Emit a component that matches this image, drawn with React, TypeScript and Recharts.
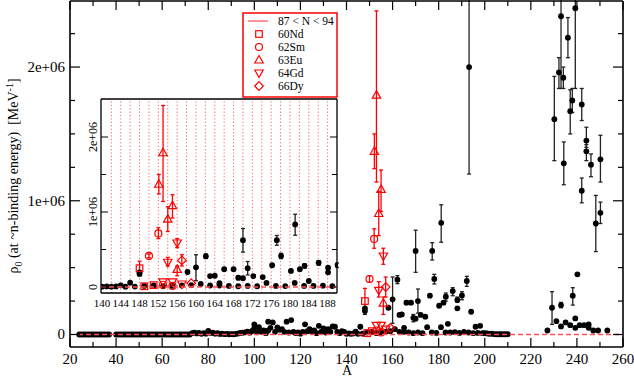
import React from "react";
import { ComposedChart, Scatter, XAxis, YAxis, ErrorBar, ReferenceLine } from "recharts";

const RED = "#ff0000";
const FONT = "Liberation Serif, Times New Roman, serif";

// [A, rho0]
type Pt = [number, number];
// [A, rho0, lower bound, upper bound]
type ErrPt = [number, number, number, number];

// black points lying close to zero
const blackNearZero: Pt[] = [
  [24, 0], [25, 0], [26, 0], [27, 0], [28, 0], [29, 0], [30, 0], [31, 0], [32, 0], [33, 0], [34, 0], [35, 0], [36, 0], [37, 0],
  [40, 0], [41, 0], [42, 0], [43, 0], [44, 0], [45, 0], [46, 0], [47, 0], [48, 0], [49, 0], [50, 0], [51, 0], [52, 0],
  [53, 0], [54, 0], [55, 0], [56, 0], [57, 0], [58, 0], [59, 0], [60, 0], [61, 0], [62, 0], [63, 0], [64, 0], [65, 0],
  [66, 0], [67, 0], [68, 0], [69, 0], [70, 0], [71, 0], [72, 0],
  [73, 10e3], [74, 14e3], [75, 8e3], [76, 12e3], [77, 5e3], [78, 10e3], [79, 6e3], [80, 26e3], [81, 12e3], [82, 14e3],
  [83, 6e3], [84, 10e3], [85, 4e3], [86, 6e3], [87, 3e3], [88, 4e3], [89, 2e3], [90, 3e3], [91, 2e3], [92, 4e3],
  [93, 8e3], [94, 12e3], [95, 14e3], [96, 16e3], [97, 22e3], [98, 14e3], [99, 26e3],
  [100, 76e3], [100, 50e3], [101, 16e3], [102, 55e3], [103, 20e3], [104, 30e3], [105, 10e3], [106, 96e3], [106, 30e3],
  [107, 50e3], [108, 90e3], [109, 20e3], [110, 54e3], [111, 35e3], [112, 40e3], [113, 20e3], [114, 96e3], [115, 15e3],
  [116, 108e3], [117, 20e3], [118, 10e3], [119, 15e3], [120, 6e3], [121, 20e3], [122, 76e3], [123, 25e3], [124, 40e3],
  [125, 20e3], [126, 30e3], [127, 10e3], [128, 65e3], [129, 20e3], [130, 45e3], [131, 15e3], [132, 40e3], [133, 20e3],
  [134, 60e3], [135, 58e3], [136, 20e3], [137, 10e3], [138, 25e3], [139, 20e3],
  [140, 5e3], [141, 8e3], [142, 5e3], [143, 8e3], [144, 22e3], [145, 5e3], [146, 58e3], [147, 6e3],
  [149, 15e3], [151, 20e3], [153, 10e3], [155, 15e3], [157, 20e3], [159, 25e3], [161, 40e3], [163, 20e3],
  [165, 50e3], [165, 20e3], [167, 15e3], [169, 10e3], [171, 15e3], [173, 10e3], [175, 55e3], [177, 15e3],
  [179, 12e3], [181, 55e3], [183, 15e3], [184, 80e3], [185, 15e3], [187, 18e3], [189, 12e3], [191, 20e3],
  [193, 15e3], [195, 10e3], [196, 58e3], [197, 12e3], [198, 65e3], [199, 10e3],
  [200, 10e3], [201, 8e3], [202, 5e3], [203, 6e3], [204, 3e3], [205, 2e3], [206, 2e3], [207, 2e3], [208, 2e3],
  [209, 2e3], [210, 2e3],
];

// rare earth region, no error bar
const blackMid: Pt[] = [
  [148, 195e3], [158.2, 200e3], [163, 146e3], [164, 150e3], [168, 238e3], [170, 118e3], [172.2, 146e3],
  [174.2, 133e3], [176.2, 290e3], [180.2, 215e3], [182.1, 238e3], [188.1, 196e3], [194.1, 170e3],
];

const blackMidErr: ErrPt[] = [
  [148, 175e3, 150e3, 200e3],
  [160, 263e3, 84e3, 430e3],
  [162.1, 410e3, 380e3, 440e3],
  [166, 238e3, 225e3, 252e3],
  [169, 125e3, 95e3, 150e3],
  [170, 625e3, 465e3, 780e3],
  [171, 250e3, 160e3, 340e3],
  [177.2, 625e3, 557e3, 687e3],
  [178.1, 415e3, 378e3, 450e3],
  [181.1, 835e3, 690e3, 970e3],
  [183.1, 283e3, 250e3, 310e3],
  [186.1, 325e3, 290e3, 350e3],
  [188.1, 258e3, 240e3, 280e3],
  [190.1, 292e3, 260e3, 320e3],
  [192.2, 400e3, 360e3, 435e3],
  [193.2, 2.0e6, 1.2e6, 2.8e6],
];

const actinides: Pt[] = [
  [227.2, 30e3], [231.1, 100e3], [233.1, 60e3], [235.1, 90e3], [237.1, 70e3], [239.3, 50e3], [239.3, 120e3],
  [240.2, 450e3], [241.2, 70e3], [243.1, 70e3], [245.1, 75e3], [245.1, 50e3], [247.1, 30e3], [249.2, 30e3],
  [253.2, 30e3],
];

const actinidesErr: ErrPt[] = [
  [229.2, 200e3, 76e3, 320e3],
  [230.2, 1.61e6, 1.3e6, 1.93e6],
  [232.2, 1.96e6, 1.84e6, 2.07e6],
  [233.1, 2.38e6, 1.84e6, 2.8e6],
  [233.1, 220e3, 200e3, 240e3],
  [234.1, 1.92e6, 1.84e6, 2.0e6],
  [234.3, 1.28e6, 1.12e6, 1.44e6],
  [236.1, 2.22e6, 2.07e6, 2.37e6],
  [237.1, 1.67e6, 1.5e6, 1.83e6],
  [238, 1.75e6, 1.66e6, 1.84e6],
  [238.2, 290e3, 220e3, 350e3],
  [239.3, 2.44e6, 1.84e6, 2.8e6],
  [242.1, 1.72e6, 1.6e6, 1.84e6],
  [242.1, 1.075e6, 0.985e6, 1.17e6],
  [244.1, 1.45e6, 1.4e6, 1.55e6],
  [244.1, 1.37e6, 1.3e6, 1.42e6],
  [246.1, 1.27e6, 1.18e6, 1.35e6],
  [248.2, 0.83e6, 0.62e6, 1.04e6],
  [250.2, 1.31e6, 1.14e6, 1.49e6],
  [250.2, 0.91e6, 0.83e6, 0.99e6],
];

// 87 < N < 94 isotopes, by element
const ndPts: Pt[] = [[149, 10e3], [151, 25e3]];
const ndErr: ErrPt[] = [[148, 250e3, 180e3, 345e3]];
const smPts: Pt[] = [[153, 30e3], [155, 15e3]];
const smErr: ErrPt[] = [[150, 415e3, 390e3, 440e3], [152, 715e3, 645e3, 790e3]];
const euErr: ErrPt[] = [
  [152.1, 1.37e6, 1.24e6, 1.5e6],
  [153, 1.79e6, 1.14e6, 2.42e6],
  [154, 0.905e6, 0.74e6, 1.07e6],
  [155, 1.085e6, 0.92e6, 1.23e6],
  [156, 235e3, 150e3, 280e3],
];
const gdPts: Pt[] = [[153, 68e3], [155, 68e3], [157, 40e3]];
const gdErr: ErrPt[] = [[154, 330e3, 280e3, 395e3], [156, 587e3, 525e3, 645e3]];
const dyPts: Pt[] = [[159, 50e3]];
const dyErr: ErrPt[] = [[157, 355e3, 280e3, 430e3]];

const zeroLine: Pt[] = [[23.5, 0], [260, 0]];
const insetZeroLine: Pt[] = [[139.8, 0], [190, 0]];

const mainXTicks = [20, 30, 40, 50, 60, 70, 80, 90, 100, 110, 120, 130, 140, 150, 160, 170, 180, 190, 200, 210, 220, 230, 240, 250, 260];
const mainYTicks = [0, 250000, 500000, 750000, 1000000, 1250000, 1500000, 1750000, 2000000, 2250000];
const insetXTicks = [140, 144, 148, 152, 156, 160, 164, 168, 172, 176, 180, 184, 188];
const insetYTicks = [0, 500000, 1000000, 1500000, 2000000];
const insetGuides = [142, 144, 146, 148, 150, 152, 154, 156, 158, 160, 162, 164, 166, 168, 170, 172, 174, 176, 178, 180, 182, 184, 186, 188];
const legendLabels = ["87 < N < 94", "60Nd", "62Sm", "63Eu", "64Gd", "66Dy"];

const plain = (pts: Pt[]) => pts.map(([A, v]) => ({ A, v }));
const withErr = (pts: ErrPt[]) => pts.map(([A, v, lo, hi]) => ({ A, v, err: [v - lo, hi - v] }));

const yLabel = (v: number) => (v === 0 ? "0" : `${v / 1e6}e+06`);

// markers
const Dot = (p: any) => <circle cx={p.cx} cy={p.cy} r={2.9} fill="#000" />;
const Square = (p: any) => (
  <rect x={p.cx - 3.3} y={p.cy - 3.3} width={6.6} height={6.6} fill="none" stroke={RED} strokeWidth={1.2} />
);
const Circ = (p: any) => <circle cx={p.cx} cy={p.cy} r={3.5} fill="none" stroke={RED} strokeWidth={1.2} />;
const TriUp = (p: any) => (
  <path d={`M${p.cx},${p.cy - 4.5}L${p.cx + 4.2},${p.cy + 3}L${p.cx - 4.2},${p.cy + 3}Z`} fill="none" stroke={RED} strokeWidth={1.2} />
);
const TriDown = (p: any) => (
  <path d={`M${p.cx},${p.cy + 4.5}L${p.cx + 4.2},${p.cy - 3}L${p.cx - 4.2},${p.cy - 3}Z`} fill="none" stroke={RED} strokeWidth={1.2} />
);
const Diamond = (p: any) => (
  <path d={`M${p.cx},${p.cy - 4.3}L${p.cx + 4.3},${p.cy}L${p.cx},${p.cy + 4.3}L${p.cx - 4.3},${p.cy}Z`} fill="none" stroke={RED} strokeWidth={1.2} />
);
const Nothing = () => <g />;

function series(xId: string, yId: string) {
  const c = { xAxisId: xId, yAxisId: yId, isAnimationActive: false };
  const eb = (color: string) => (
    <ErrorBar dataKey="err" direction="y" width={2} stroke={color} strokeWidth={1.3} isAnimationActive={false} />
  );
  return [
    <Scatter key="bz" data={plain(blackNearZero)} shape={Dot} {...c} />,
    <Scatter key="bm" data={plain(blackMid)} shape={Dot} {...c} />,
    <Scatter key="bme" data={withErr(blackMidErr)} shape={Dot} {...c}>{eb("#222")}</Scatter>,
    <Scatter key="ac" data={plain(actinides)} shape={Dot} {...c} />,
    <Scatter key="ace" data={withErr(actinidesErr)} shape={Dot} {...c}>{eb("#222")}</Scatter>,
    <Scatter key="nd" data={plain(ndPts)} shape={Square} {...c} />,
    <Scatter key="nde" data={withErr(ndErr)} shape={Square} {...c}>{eb(RED)}</Scatter>,
    <Scatter key="sm" data={plain(smPts)} shape={Circ} {...c} />,
    <Scatter key="sme" data={withErr(smErr)} shape={Circ} {...c}>{eb(RED)}</Scatter>,
    <Scatter key="eue" data={withErr(euErr)} shape={TriUp} {...c}>{eb(RED)}</Scatter>,
    <Scatter key="gd" data={plain(gdPts)} shape={TriDown} {...c} />,
    <Scatter key="gde" data={withErr(gdErr)} shape={TriDown} {...c}>{eb(RED)}</Scatter>,
    <Scatter key="dy" data={plain(dyPts)} shape={Diamond} {...c} />,
    <Scatter key="dye" data={withErr(dyErr)} shape={Diamond} {...c}>{eb(RED)}</Scatter>,
  ];
}

// main chart ticks, drawn inward
const MainBottomTick = (p: any) => {
  const v = p.payload.value;
  const major = v % 20 === 0;
  return (
    <g>
      <line x1={p.x} y1={p.y} x2={p.x} y2={p.y - (major ? 9 : 5)} stroke="#000" strokeWidth={1.2} />
      {major && (
        <text x={p.x} y={p.y + 17} textAnchor="middle" fontSize={15} fontFamily={FONT} fill="#000">
          {v}
        </text>
      )}
    </g>
  );
};
const MainTopTick = (p: any) => {
  const major = p.payload.value % 20 === 0;
  return <line x1={p.x} y1={p.y} x2={p.x} y2={p.y + (major ? 9 : 5)} stroke="#000" strokeWidth={1.2} />;
};
const MainLeftTick = (p: any) => {
  const v = p.payload.value;
  const major = v % 1000000 === 0;
  return (
    <g>
      <line x1={p.x} y1={p.y} x2={p.x + (major ? 10 : 5)} y2={p.y} stroke="#000" strokeWidth={1.2} />
      {major && (
        <text x={p.x - 5} y={p.y + 5} textAnchor="end" fontSize={15} fontFamily={FONT} fill="#000">
          {yLabel(v)}
        </text>
      )}
    </g>
  );
};
const MainRightTick = (p: any) => {
  const major = p.payload.value % 1000000 === 0;
  return <line x1={p.x} y1={p.y} x2={p.x - (major ? 10 : 5)} y2={p.y} stroke="#000" strokeWidth={1.2} />;
};

// inset ticks
const InsetBottomTick = (p: any) => (
  <text x={p.x} y={p.y + 14} textAnchor="middle" fontSize={11} fontFamily={FONT} fill="#000">
    {p.payload.value}
  </text>
);
const InsetLeftTick = (p: any) => {
  const v = p.payload.value;
  const major = v % 1000000 === 0;
  return (
    <g>
      <line x1={p.x} y1={p.y} x2={p.x + (major ? 7 : 5)} y2={p.y} stroke="#000" strokeWidth={1} />
      {major && (
        <text
          x={p.x - 4}
          y={p.y}
          transform={`rotate(-90, ${p.x - 4}, ${p.y})`}
          textAnchor="middle"
          fontSize={12}
          fontFamily={FONT}
          fill="#000"
        >
          {yLabel(v)}
        </text>
      )}
    </g>
  );
};
const InsetRightTick = (p: any) => {
  const major = p.payload.value % 1000000 === 0;
  return <line x1={p.x} y1={p.y} x2={p.x - (major ? 7 : 5)} y2={p.y} stroke="#000" strokeWidth={1} />;
};

const axisLine = { stroke: "#000", strokeWidth: 1.6 };
const insetLine = { stroke: "#000", strokeWidth: 1.3 };

export default function App() {
  const mainY: [number, number] = [-93500, 2494000];
  const insetY: [number, number] = [-80000, 2506700];
  return (
    <div style={{ position: "absolute", left: 0, top: 0, width: 634, height: 377, background: "#fff", fontFamily: FONT }}>
      <ComposedChart width={634} height={377} margin={{ top: 0, right: 0, bottom: 0, left: 0 }}>
        <XAxis xAxisId="b" dataKey="A" type="number" domain={[20, 260]} allowDataOverflow ticks={mainXTicks}
          interval={0} tickSize={0} tickMargin={0} tickLine={false} axisLine={axisLine} height={30} tick={MainBottomTick} />
        <XAxis xAxisId="t" dataKey="A" type="number" orientation="top" domain={[20, 260]} allowDataOverflow ticks={mainXTicks}
          interval={0} tickSize={0} tickMargin={0} tickLine={false} axisLine={axisLine} height={1} tick={MainTopTick} />
        <YAxis yAxisId="l" dataKey="v" type="number" domain={mainY} allowDataOverflow ticks={mainYTicks}
          interval={0} tickSize={0} tickMargin={0} tickLine={false} axisLine={axisLine} width={70} tick={MainLeftTick} />
        <YAxis yAxisId="r" dataKey="v" type="number" orientation="right" domain={mainY} allowDataOverflow ticks={mainYTicks}
          interval={0} tickSize={0} tickMargin={0} tickLine={false} axisLine={axisLine} width={11} tick={MainRightTick} />
        {series("b", "l")}
        <Scatter data={plain(zeroLine)} xAxisId="t" yAxisId="r" shape={Nothing} isAnimationActive={false}
          line={{ stroke: "#ff5050", strokeWidth: 1.5, strokeDasharray: "5 3" }} />
      </ComposedChart>

      <div style={{ position: "absolute", left: 80, top: 98, width: 259, height: 215, background: "#fff" }}>
        <ComposedChart width={259} height={215} margin={{ top: 0, right: 0, bottom: 0, left: 0 }}>
          <XAxis xAxisId="b" dataKey="A" type="number" domain={[139.8, 190]} allowDataOverflow ticks={insetXTicks}
            interval={0} tickSize={0} tickMargin={0} tickLine={false} axisLine={insetLine} height={20} tick={InsetBottomTick} />
          <XAxis xAxisId="t" dataKey="A" type="number" orientation="top" domain={[139.8, 190]} allowDataOverflow
            tickLine={false} tick={false} axisLine={insetLine} height={1} />
          <YAxis yAxisId="l" dataKey="v" type="number" domain={insetY} allowDataOverflow ticks={insetYTicks}
            interval={0} tickSize={0} tickMargin={0} tickLine={false} axisLine={insetLine} width={21} tick={InsetLeftTick} />
          <YAxis yAxisId="r" dataKey="v" type="number" orientation="right" domain={insetY} allowDataOverflow ticks={insetYTicks}
            interval={0} tickSize={0} tickMargin={0} tickLine={false} axisLine={insetLine} width={2} tick={InsetRightTick} />
          {insetGuides.map((a) => (
            <ReferenceLine key={a} x={a} xAxisId="b" yAxisId="l" stroke="#ff6060" strokeWidth={1} strokeDasharray="1.2 2.2" />
          ))}
          {series("b", "l")}
          <Scatter data={plain(insetZeroLine)} xAxisId="t" yAxisId="r" shape={Nothing} isAnimationActive={false}
            line={{ stroke: "#ff5050", strokeWidth: 1.3, strokeDasharray: "5 3" }} />
        </ComposedChart>
      </div>

      <svg width={634} height={377} style={{ position: "absolute", left: 0, top: 0, pointerEvents: "none" }} fontFamily={FONT}>
        {/* legend */}
        <rect x={243} y={13} width={94} height={84} fill="#fff" stroke={RED} strokeWidth={1.5} />
        <line x1={248} y1={21} x2={268} y2={21} stroke="#ff5a5a" strokeWidth={1.3} />
        <Square cx={259} cy={34} />
        <Circ cx={259} cy={47} />
        <TriUp cx={259} cy={60} />
        <TriDown cx={259} cy={73} />
        <Diamond cx={259} cy={86} />
        {legendLabels.map((t, i) => (
          <text key={t} x={278} y={25 + i * 13} fontSize={11.5} fill="#000">{t}</text>
        ))}
        {/* axis titles */}
        <text transform="translate(18,176) rotate(-90)" textAnchor="middle" fontSize={14} fill="#000" style={{ whiteSpace: "pre" }}>
          ρ<tspan dy={4} fontSize={10}>0</tspan><tspan dy={-4}> (at ~n-binding energy)  [MeV</tspan>
          <tspan dy={-5} fontSize={10}>-1</tspan><tspan dy={5}>]</tspan>
        </text>
        <text x={347} y={375} textAnchor="middle" fontSize={14} fill="#000">A</text>
      </svg>
    </div>
  );
}
